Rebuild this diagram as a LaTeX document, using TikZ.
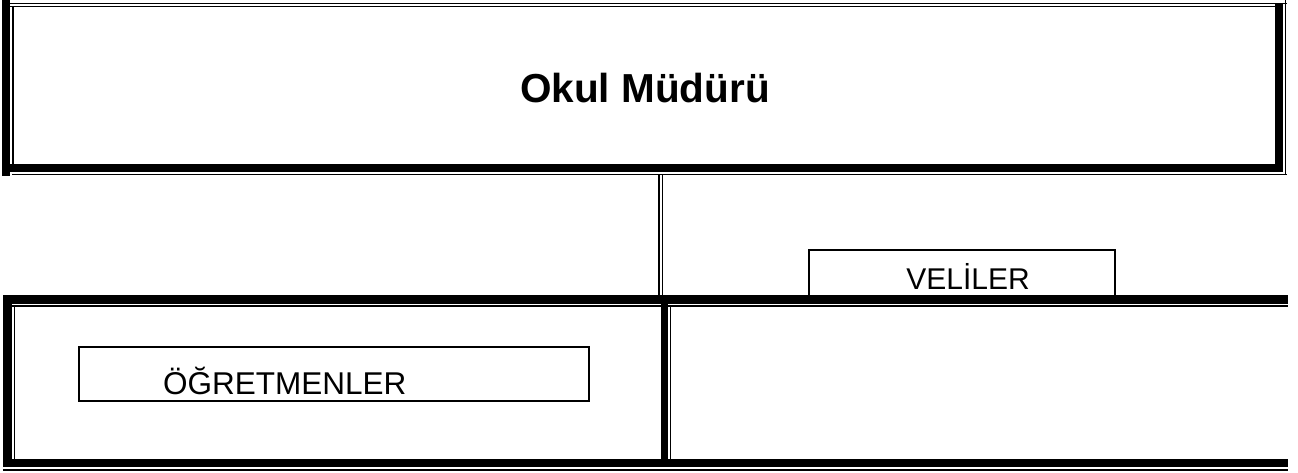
\documentclass[tikz,border=0pt]{standalone}
\usepackage{fontspec}
\setmainfont{Liberation Sans}
\tikzset{
  thickbar/.style={fill=black, draw=none},
  thinline/.style={draw=black, line width=1.4pt},
  labelbox/.style={draw=black, line width=1.6pt, fill=white, inner sep=0pt},
  lbl/.style={font=\fontsize{30}{36}\selectfont, inner sep=0pt},
}
\begin{document}
\begin{tikzpicture}[x=1pt,y=-1pt]
\useasboundingbox[fill=white] (0,0) rectangle (1298,472);
% ---- top box (Okul Müdürü)
\fill[thickbar] (2,0) rectangle (10,176);
\fill[thickbar] (2,164) rectangle (1283,172);
\fill[thickbar] (1275,4) rectangle (1283,172);
\draw[thinline] (2,3.5) -- (1287,3.5);
\draw[thinline] (10,6.5) -- (1275,6.5);
\draw[thinline] (13,6.5) -- (13,164);
\draw[thinline] (12,174.5) -- (1287,174.5);
\draw[thinline] (1285.5,0) -- (1285.5,175);
\node[font=\bfseries\fontsize{40.5}{46}\selectfont, inner sep=0pt] (okul) at (645,88) {Okul Müdürü};
% ---- connector (double line)
\coordinate (c1) at (659,175);
\coordinate (c2) at (659,295);
\coordinate (d1) at (662.5,175);
\coordinate (d2) at (662.5,295);
\draw[thinline] (c1) -- (c2);
\draw[thinline] (d1) -- (d2);
% ---- VELİLER box
\node[labelbox, minimum width=306pt, minimum height=46pt, anchor=south west] (veli) at (808,297) {};
\node[lbl] (velit) at (968,276) {VELİLER};
% ---- lower table
\fill[thickbar] (3,295) rectangle (1288,303.5);
\draw[thinline] (12,306) -- (1288,306);
\fill[thickbar] (3,295) rectangle (12,467);
\draw[thinline] (14.5,306) -- (14.5,459);
\fill[thickbar] (3,459) rectangle (1288,467);
\draw[thinline] (3,470) -- (1288,470);
\fill[thickbar] (661,303.5) rectangle (668,467);
\draw[thinline] (670.5,306) -- (670.5,459);
% ---- ÖĞRETMENLER box
\node[labelbox, minimum width=510pt, minimum height=54pt, anchor=north west] (ogr) at (78,346) {};
\node[lbl, font=\fontsize{31.5}{36}\selectfont, anchor=base west] (ogrt) at (163,394) {ÖĞRETMENLER};
\end{tikzpicture}
\end{document}
